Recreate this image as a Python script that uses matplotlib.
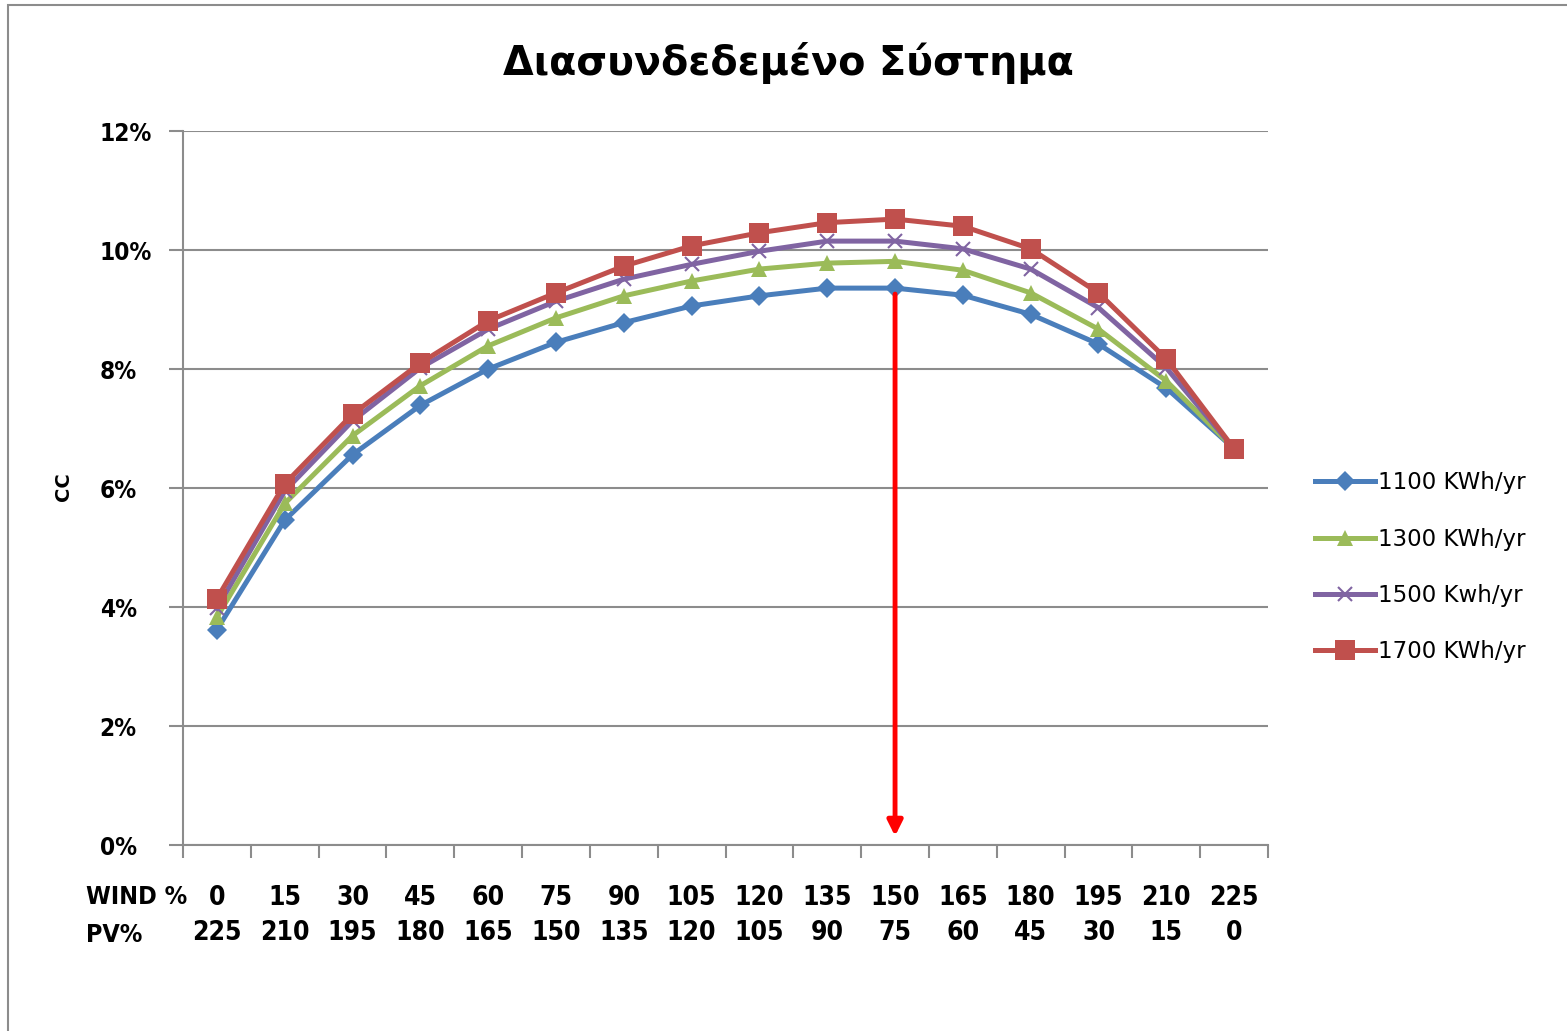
import matplotlib
matplotlib.use("Agg")
import matplotlib.pyplot as plt
from matplotlib.ticker import FuncFormatter, FixedLocator
from matplotlib.patches import Rectangle

title = "Διασυνδεδεμένο Σύστημα"
wind = [0, 15, 30, 45, 60, 75, 90, 105, 120, 135, 150, 165, 180, 195, 210, 225]
pv = [225, 210, 195, 180, 165, 150, 135, 120, 105, 90, 75, 60, 45, 30, 15, 0]

cc_1100 = [3.62, 5.46, 6.56, 7.39, 8.00, 8.45, 8.78, 9.06, 9.23, 9.36, 9.36, 9.24, 8.92, 8.42, 7.68, 6.66]
cc_1300 = [3.83, 5.74, 6.88, 7.72, 8.39, 8.86, 9.23, 9.48, 9.68, 9.78, 9.81, 9.66, 9.28, 8.67, 7.80, 6.66]
cc_1500 = [3.98, 5.95, 7.13, 8.02, 8.67, 9.14, 9.51, 9.76, 9.98, 10.15, 10.15, 10.02, 9.68, 9.03, 8.02, 6.66]
cc_1700 = [4.14, 6.07, 7.24, 8.10, 8.81, 9.28, 9.73, 10.07, 10.29, 10.46, 10.52, 10.40, 10.02, 9.28, 8.17, 6.66]

series_labels = ["1100 KWh/yr", "1300 KWh/yr", "1500 Kwh/yr", "1700 KWh/yr"]
series_colors = ["#4A7EBB", "#9BBB59", "#8064A2", "#C0504D"]
arrow_index = 10  # WIND 150 / PV 75

narrow = dict(fontfamily="DejaVu Sans", fontstretch="condensed", fontweight="bold")

fig = plt.figure(figsize=(15.67, 10.31), dpi=100)
ax = fig.add_axes([0.1168, 0.1804, 0.8092 - 0.1168, 0.8729 - 0.1804])

# chart border
fig.patches.append(Rectangle((8 / 1567, -0.1), 1.2, 1.1 - 5 / 1031,
                             transform=fig.transFigure, fill=False,
                             edgecolor="#8c8c8c", linewidth=1.5))

x = list(range(len(wind)))
data = [cc_1100, cc_1300, cc_1500, cc_1700]
markers = ["D", "^", "x", "s"]
msizes = [10, 11, 10, 14.5]
for vals, lab, col, m, ms in zip(data, series_labels, series_colors, markers, msizes):
    kw = dict(markeredgewidth=1.5) if m == "x" else dict(markeredgewidth=0)
    ax.plot(x, [v / 100 for v in vals], color=col, lw=3.6, marker=m, ms=ms,
            label=lab, **kw)

# red arrow
ax.annotate("", xy=(arrow_index, 0.0015),
            xytext=(arrow_index, cc_1100[arrow_index] / 100 - 0.001),
            arrowprops=dict(arrowstyle="-|>,head_length=0.9,head_width=0.45",
                            color="#FF0000", lw=3.5, shrinkA=0, shrinkB=0),
            zorder=5)

ax.set_xlim(-0.5, len(wind) - 0.5)
ax.set_ylim(0, 0.12)
ax.set_yticks([0, 0.02, 0.04, 0.06, 0.08, 0.10, 0.12])
ax.yaxis.set_major_formatter(FuncFormatter(lambda v, p: f"{v*100:.0f}%"))
ax.grid(axis="y", color="#8c8c8c", lw=1.5)
ax.set_axisbelow(True)

ax.set_xticks(x)
ax.set_xticklabels([f"{w}\n{p}" for w, p in zip(wind, pv)], linespacing=1.42)
ax.xaxis.set_minor_locator(FixedLocator([i - 0.5 for i in range(len(wind) + 1)]))
ax.tick_params(axis="x", which="major", length=0, pad=29)
ax.tick_params(axis="x", which="minor", length=9, width=1.5, color="#8c8c8c", direction="out")
ax.tick_params(axis="y", length=10, width=1.5, color="#8c8c8c", pad=50)
for t in ax.get_xticklabels():
    t.set(**narrow)
    t.set_fontsize(19)
for t in ax.get_yticklabels():
    t.set(**narrow)
    t.set_fontsize(17.5)
    t.set_horizontalalignment("left")

for s in ["top", "right"]:
    ax.spines[s].set_visible(False)
for s in ["left", "bottom"]:
    ax.spines[s].set_color("#8c8c8c")
    ax.spines[s].set_linewidth(1.5)

fig.text(86 / 1567, 1 - 897 / 1031, "WIND %", fontsize=18, ha="left", va="center", **narrow)
fig.text(86 / 1567, 1 - 935 / 1031, "PV%", fontsize=18, ha="left", va="center", **narrow)

fig.text(63 / 1567, 1 - 487 / 1031, "CC", rotation=90, fontweight="bold",
         fontsize=14, ha="center", va="center")

fig.text(788 / 1567, 1 - 63 / 1031, title, fontweight="bold", fontsize=28.5,
         ha="center", va="center")

leg = ax.legend(loc="center left", bbox_to_anchor=(1.035, 0.389), frameon=False,
                fontsize=16.5, handlelength=2.6, handletextpad=0.15, labelspacing=1.45,
                borderaxespad=0)

fig.savefig("out.png", dpi=100)
